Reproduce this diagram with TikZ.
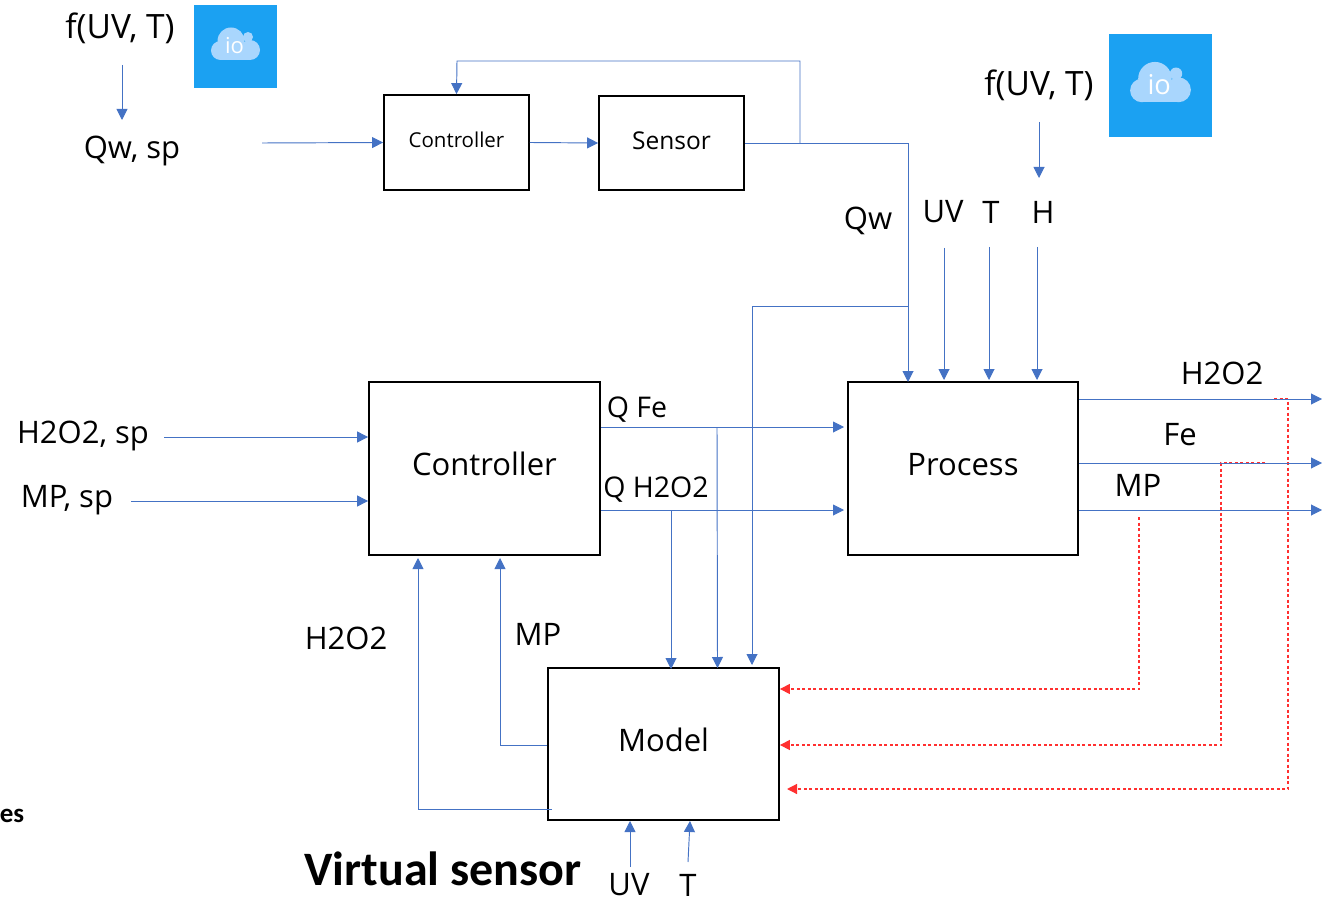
\documentclass[tikz,border=0pt]{standalone}
\usepackage{fontspec}
\setmainfont{Carlito}
\newfontfamily\labelfont{Open Sans}
\usetikzlibrary{arrows.meta}
\definecolor{wire}{HTML}{4472C4}
\definecolor{iconblue}{HTML}{1BA1F2}
\definecolor{iconcloud}{HTML}{A9D6FD}
\definecolor{backred}{HTML}{FF3030}

\tikzset{
    ioicon/.pic = {
        \fill[iconblue] (-41.5,-41.5) rectangle (41.5,41.5);
        \fill[iconcloud] (-4.5,-5.5) circle (13.5);
        \fill[iconcloud] (12.5,-9.5) circle (5);
        \fill[iconcloud] (-15,4) circle (9.5);
        \fill[iconcloud] (14.5,3.5) circle (10);
        \fill[iconcloud] (-15,-2) rectangle (14.5,13.5);
        \node[transform shape,text=white,font=\labelfont\fontsize{22}{24}\selectfont] (-io) at (-1,-1) {io};
    }
}

\begin{document}
\begin{tikzpicture}[
            x = 1pt,
            y = -1pt,
            > = {Triangle[length=11pt,width=11pt]}, % arrow head style
            block/.style = {draw, line width=1.8pt, inner sep=0pt},
            bigname/.style = {font=\labelfont\fontsize{31}{33}\selectfont, text height=20pt, text depth=7pt},
            txt/.style = {inner sep=0pt, font=\labelfont\fontsize{31}{33}\selectfont},
            small/.style = {inner sep=0pt, font=\labelfont\fontsize{28.5}{30}\selectfont},
            flow/.style = {->, wire, line width=0.95pt},
            plain/.style = {wire, line width=0.95pt},
            back/.style = {->, backred, line width=1.2pt, dash pattern=on 3pt off 2.5pt,
                           >={Triangle[length=10pt,width=10pt]}}
        ]
	\useasboundingbox (0,0) rectangle (1325,901);

	% blocks
	\node[block, minimum width=145pt, minimum height=95pt, text height=15pt, text depth=4pt] (ctrltop) at (456.5,142.5)
		{\labelfont\fontsize{20.5}{23}\selectfont Controller};
	\node[block, minimum width=145pt, minimum height=94pt, text height=18pt, text depth=4pt] (sensor) at (671.5,143)
		{\labelfont\fontsize{24.5}{27}\selectfont Sensor};
	\node[block, minimum width=231pt, minimum height=173pt, bigname] (ctrl) at (484.5,468.5) {Controller};
	\node[block, minimum width=230pt, minimum height=173pt, bigname] (process) at (963,468.5) {Process};
	\node[block, minimum width=231pt, minimum height=152pt, bigname, text depth=5pt] (model) at (663.5,744) {Model};

	% labels
	\node[txt, font=\labelfont\fontsize{33.5}{35}\selectfont] (fa) at (120,28) {f(UV, T)};
	\node[txt] (qwsp) at (132,151) {Qw, sp};
	\node[txt, font=\labelfont\fontsize{33.5}{35}\selectfont] (fb) at (1039,85) {f(UV, T)};
	\node[txt] (qw) at (868,221) {Qw};
	\node[txt] (uv) at (943,212) {UV};
	\node[txt] (t) at (991,212) {T};
	\node[txt] (h) at (1043,212) {H};
	\node[txt] (hsp) at (83,436) {H2O2, sp};
	\node[txt] (msp) at (67,500) {MP, sp};
	\node[small] (qfe) at (637,410) {Q Fe};
	\node[small] (qh) at (656,490) {Q H2O2};
	\node[txt] (outh) at (1222,373) {H2O2};
	\node[txt] (outf) at (1180,435) {Fe};
	\node[txt] (outm) at (1138,485) {MP};
	\node[txt] (fbh) at (346,638) {H2O2};
	\node[txt] (fbm) at (538,634) {MP};
	\node[txt] (uvm) at (629,885) {UV};
	\node[txt] (tm) at (688,885) {T};
	\node[font=\bfseries\fontsize{48}{50}\selectfont, inner sep=0pt] (vs) at (443,869) {Virtual sensor};
	\node[font=\bfseries\fontsize{27}{29}\selectfont, inner sep=0pt] (es) at (12,816) {es};

	% cloud icons
	\pic (icona) at (235.5,46.5) {ioicon};
	\pic[scale=1.24] (iconb) at (1160.5,85.5) {ioicon};

	% free ends
	\coordinate (e1) at (1322,399);
	\coordinate (e2) at (1322,463);
	\coordinate (e3) at (1322,510);
	\coordinate (j1) at (800,143);
	\coordinate (j2) at (908,306);
	\coordinate (j3) at (717,427);
	\coordinate (j4) at (671,510);
	\coordinate (r1) at (1139,517);
	\coordinate (r2) at (1265,463);
	\coordinate (r3) at (1274,399);

	% red feedback
	\draw[back] (r1) |- (model.east |- 0,689);
	\draw[back] (r2) -- (1221,463) |- (model.east |- 0,745);
	\draw[back] (r3) -- (1288,399) |- (787,789);

	% top loop
	\draw[flow] (122,65) coordinate (s1) -- (122,120) coordinate (s2);
	\draw[flow] (262,143) coordinate (s3) -- (ctrltop.west);
	\draw[flow] (ctrltop.east) -- (sensor.west);
	\draw[plain] (sensor.east) -- (j1);
	\draw[flow] (j1) |- (457,61) -- (ctrltop.north);
	\draw[flow] (j1) -| (908,382);
	\draw[flow] (j2) -| (752,665);

	% process inputs
	\draw[flow] (1039,122) coordinate (s4) -- (1039,178) coordinate (s5);
	\draw[flow] (944,248) coordinate (s6) -- (944,380);
	\draw[flow] (989,247) coordinate (s7) -- (989,380);
	\draw[flow] (1037,247) coordinate (s8) -- (1037,380);

	% process outputs
	\draw[flow] (process.east |- e1) -- (e1);
	\draw[flow] (process.east |- e2) -- (e2);
	\draw[flow] (process.east |- e3) -- (e3);

	% controller
	\draw[flow] (164,437) coordinate (s9) -- (ctrl.west |- s9);
	\draw[flow] (131,501) coordinate (s10) -- (ctrl.west |- s10);
	\draw[flow] (ctrl.east |- j3) -- (844,427);
	\draw[flow] (ctrl.east |- j4) -- (844,510);
	\draw[flow] (j3) -- (717.5,668);
	\draw[flow] (j4) -- (671,669);

	% model
	\draw[flow] (model.west |- 0,745) -- (500,745) -- (500,558);
	\draw[flow] (552,809) -- (418,809) -- (418,558);
	\draw[flow] (630,867) coordinate (s11) -- (630,821);
	\draw[flow] (688,862) coordinate (s12) -- (690,821);
\end{tikzpicture}
\end{document}
